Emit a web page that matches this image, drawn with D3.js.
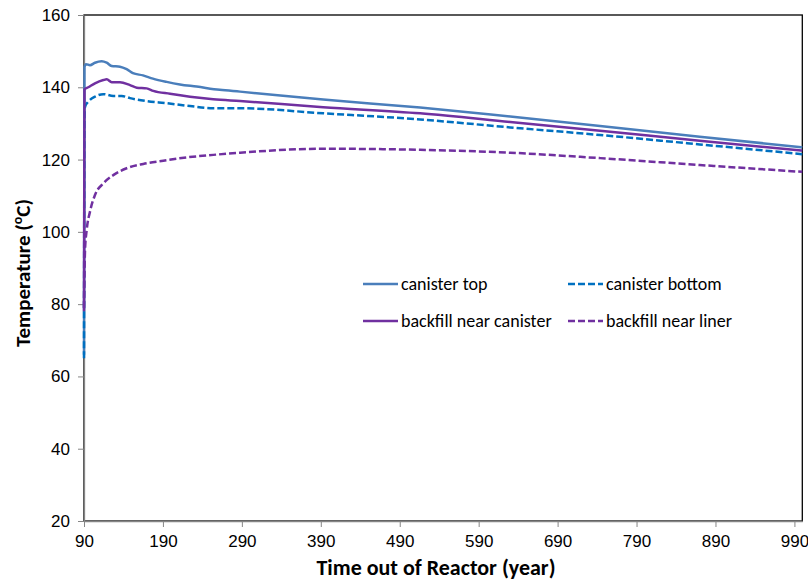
<!DOCTYPE html>
<html>
<head>
<meta charset="utf-8">
<script src="https://cdn.jsdelivr.net/npm/d3@7"></script>
<style>
  body { margin: 0; background: #fff; }
  svg { display: block; font-family: Carlito, Calibri, Lato, sans-serif; }
  .axis path, .axis line { stroke: #868686; }
  .axis text { font-size: 17px; fill: #000; }
</style>
</head>
<body>
<div id="chart"></div>
<script>
// values
const topYears = [90, 90.6, 92.5, 97.6, 103.9, 112.4, 118.7, 125, 135.6, 144, 152, 164.7, 177.3, 194.7, 211.5, 232.7, 262, 287.7, 393, 515.8, 630, 743.8, 870, 1000];
const topTemps = [66, 145.6, 146.4, 146.1, 146.8, 147.2, 146.8, 145.9, 145.7, 145.0, 143.9, 143.3, 142.4, 141.5, 140.8, 140.2, 139.3, 138.8, 136.6, 134.4, 131.9, 129.3, 126.3, 123.4];

const bottomYears = [90, 90.6, 91.3, 95.4, 103.9, 114.5, 127.1, 137.8, 148.3, 169.4, 194.8, 224.3, 253.8, 287.7, 393, 515.8, 630, 743.8, 870, 1000];
const bottomTemps = [65, 131, 134.6, 136, 137.4, 138.1, 137.6, 137.6, 137.0, 136.2, 135.6, 134.8, 134.2, 134.2, 132.8, 131.1, 128.9, 126.8, 124.2, 121.5];

const canisterYears = [90, 90.6, 95.4, 103.9, 114.5, 118.8, 125.1, 135.6, 148.3, 156.8, 169.4, 177.8, 199, 224.3, 253.8, 287.7, 393, 515.8, 630, 743.8, 870, 1000];
const canisterTemps = [78, 139.4, 140, 141.1, 142, 142.2, 141.4, 141.4, 140.6, 139.9, 139.7, 139, 138.2, 137.4, 136.7, 136.2, 134.5, 132.8, 130.4, 128, 125.2, 122.5];

const linerYears = [90, 91.3, 93.4, 97.6, 103.9, 114.5, 127.1, 144.1, 165.1, 190.5, 220.1, 253.8, 287.7, 393, 515.8, 630, 743.8, 870, 1000];
const linerTemps = [79, 95, 100.5, 105.6, 110.2, 113.4, 115.7, 117.6, 118.8, 119.7, 120.6, 121.3, 121.9, 123.0, 122.7, 121.9, 120.4, 118.5, 116.6];

const xTicks = [90, 190, 290, 390, 490, 590, 690, 790, 890, 990];
const yTicks = [20, 40, 60, 80, 100, 120, 140, 160];

const series = [
  { name: 'canister top', years: topYears, temps: topTemps, color: '#4A7EBB', dash: null },
  { name: 'canister bottom', years: bottomYears, temps: bottomTemps, color: '#0070C0', dash: '7,3' },
  { name: 'backfill near canister', years: canisterYears, temps: canisterTemps, color: '#7030A0', dash: null },
  { name: 'backfill near liner', years: linerYears, temps: linerTemps, color: '#7030A0', dash: '7,3' }
];

const width = 808;
const height = 580;
const margin = { top: 15, right: 5.7, bottom: 59, left: 84 };
const innerW = width - margin.left - margin.right;
const innerH = height - margin.top - margin.bottom;

const svg = d3.select('#chart')
  .append('svg')
  .attr('width', width)
  .attr('height', height);

const x = d3.scaleLinear().domain([90, 1000]).range([0, innerW]);
const y = d3.scaleLinear().domain([20, 160]).range([innerH, 0]);

const g = svg.append('g')
  .attr('transform', `translate(${margin.left},${margin.top})`);

// plot area border
g.append('rect')
  .attr('width', innerW)
  .attr('height', innerH)
  .attr('fill', 'none')
  .attr('stroke', '#000')
  .attr('stroke-width', 1.3);

g.append('g')
  .attr('class', 'axis')
  .call(d3.axisLeft(y).tickValues(yTicks).tickSize(6).tickPadding(8).tickSizeOuter(0))
  .call(a => a.select('.domain').attr('stroke-width', 1.3));

g.append('g')
  .attr('class', 'axis')
  .attr('transform', `translate(0,${innerH})`)
  .call(d3.axisBottom(x).tickValues(xTicks).tickSize(6).tickPadding(8).tickSizeOuter(0).tickFormat(d3.format('d')))
  .call(a => a.select('.domain').attr('stroke-width', 1.3));

const line = d3.line()
  .x(d => x(d[0]))
  .y(d => y(d[1]))
  .curve(d3.curveMonotoneX);

g.selectAll('path.series')
  .data(series)
  .join('path')
  .attr('class', 'series')
  .attr('fill', 'none')
  .attr('stroke', d => d.color)
  .attr('stroke-width', 2.5)
  .attr('stroke-dasharray', d => d.dash)
  .attr('d', d => line(d.years.map((yr, i) => [yr, d.temps[i]])));

// legend
const legendPos = [[363, 284], [568, 284], [363, 321], [568, 321]];
const legend = svg.append('g')
  .selectAll('g')
  .data(series)
  .join('g')
  .attr('transform', (d, i) => `translate(${legendPos[i][0]},${legendPos[i][1]})`);

legend.append('line')
  .attr('x1', 0).attr('x2', 35)
  .attr('stroke', d => d.color)
  .attr('stroke-width', 2.5)
  .attr('stroke-dasharray', d => d.dash);

legend.append('text')
  .attr('x', 38)
  .attr('dy', '0.35em')
  .style('font-size', '18px')
  .text(d => d.name);

// axis titles
const yTitle = svg.append('text')
  .attr('transform', 'translate(30,273) rotate(-90)')
  .attr('text-anchor', 'middle')
  .style('font-size', '21px')
  .style('font-weight', 'bold');
yTitle.append('tspan').text('Temperature (');
yTitle.append('tspan').attr('baseline-shift', 'super').style('font-size', '14px').text('o');
yTitle.append('tspan').text('C)');

svg.append('text')
  .attr('x', 436)
  .attr('y', 575)
  .attr('text-anchor', 'middle')
  .style('font-size', '22px')
  .style('font-weight', 'bold')
  .text('Time out of Reactor (year)');
</script>
</body>
</html>
